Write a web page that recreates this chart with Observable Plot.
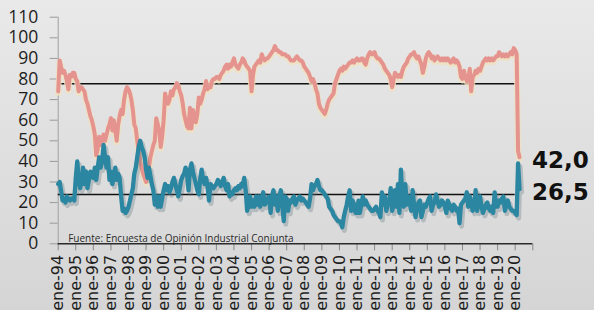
<!DOCTYPE html>
<html><head><meta charset="utf-8">
<script src="https://cdn.jsdelivr.net/npm/d3@7"></script>
<script src="https://cdn.jsdelivr.net/npm/@observablehq/plot@0.6"></script>
<style>
html,body{margin:0;padding:0;width:594px;height:310px;overflow:hidden;background:linear-gradient(#e9e9e9,#d5d5d5);}
#chart svg{display:block;background:transparent;}
</style></head><body><div id="chart"></div>
<script>
// Monthly series, starting January 1994
const startYear = 1994;
const redValues = [
  74, 89, 86, 83, 84, 82, 79, 75, 82, 81, 83, 83,
  80, 79, 74, 76, 76, 75, 74, 70, 68, 65, 62, 60,
  57, 53, 43, 46, 52, 48, 51, 53, 50, 53, 56, 58,
  61, 55, 60, 55, 50, 58, 62, 65, 63, 70, 74, 76,
  75, 73, 70, 65, 58, 56, 50, 45, 40, 37, 34, 32,
  30, 34, 37, 42, 45, 48, 50, 61, 58, 55, 47, 52,
  60, 73, 70, 68, 70, 74, 72, 75, 76, 78, 77, 74,
  72, 68, 63, 60, 57, 56, 66, 56, 65, 62, 59, 63,
  71, 68, 70, 73, 75, 79, 75, 76, 76, 79, 80, 80,
  81, 81, 80, 82, 83, 84, 86, 87, 85, 87, 86, 88,
  90, 87, 86, 85, 87, 88, 90, 89, 87, 86, 85, 84,
  74, 82, 86, 87, 88, 89, 88, 92, 90, 89, 90, 90,
  91, 92, 93, 94, 96, 94, 94, 93, 93, 92, 92, 92,
  91, 91, 90, 89, 89, 89, 90, 91, 90, 89, 89, 88,
  86, 85, 84, 83, 81, 79, 80, 78, 75, 73, 68, 66,
  65, 64, 63, 65, 68, 70, 71, 72, 73, 78, 80, 82,
  84, 85, 84, 86, 85, 86, 87, 88, 88, 89, 88, 89,
  90, 89, 89, 90, 90, 88, 87, 90, 92, 93, 92, 92,
  93, 91, 90, 90, 89, 88, 87, 85, 84, 83, 82, 80,
  76, 80, 83, 82, 81, 82, 81, 84, 86, 87, 88, 90,
  91, 92, 92, 93, 91, 90, 91, 89, 87, 83, 86, 90,
  92, 93, 92, 90, 91, 89, 90, 91, 90, 89, 90, 89,
  90, 89, 90, 89, 88, 89, 90, 88, 89, 88, 86, 81,
  80, 84, 81, 79, 80, 85, 74, 81, 82, 84, 83, 85,
  84, 86, 88, 89, 90, 89, 90, 89, 90, 89, 90, 91,
  91, 93, 92, 91, 92, 91, 92, 91, 92, 93, 92, 95,
  94, 92, 45, 42
];
const tealValues = [
  29, 30, 26, 21, 22, 20, 23, 22, 21, 22, 22, 21,
  32, 40, 32, 27, 30, 37, 29, 35, 27, 31, 35, 33,
  32, 37, 31, 37, 42, 37, 40, 48, 42, 37, 42, 31,
  35, 29, 33, 37, 31, 34, 32, 23, 16, 17, 15, 16,
  18, 21, 24, 27, 34, 37, 42, 47, 50, 47, 45, 42,
  36, 32, 37, 33, 29, 26, 19, 23, 18, 23, 18, 22,
  26, 29, 26, 28, 25, 27, 30, 32, 29, 26, 23, 27,
  31, 33, 34, 37, 34, 26, 36, 39, 35, 32, 29, 26,
  24, 32, 36, 31, 29, 32, 28, 21, 29, 28, 27, 28,
  29, 31, 30, 28, 30, 32, 28, 26, 29, 23, 25, 24,
  26, 27, 26, 28, 27, 29, 28, 32, 26, 16, 19, 23,
  18, 21, 18, 23, 19, 23, 18, 22, 25, 19, 20, 22,
  23, 15, 23, 26, 19, 23, 16, 23, 26, 19, 11, 23,
  22, 16, 21, 20, 22, 23, 19, 21, 22, 23, 21, 22,
  21, 20, 19, 18, 22, 29, 26, 28, 29, 31, 28, 26,
  26, 25, 24, 23, 22, 18, 17, 16, 14, 13, 12, 11,
  11, 10, 8, 13, 16, 19, 23, 26, 16, 21, 19, 15,
  15, 21, 15, 19, 23, 19, 21, 19, 18, 17, 16, 16,
  17, 18, 16, 15, 13, 25, 19, 23, 16, 19, 21, 27,
  16, 20, 26, 18, 29, 15, 36, 23, 18, 29, 19, 23,
  20, 16, 26, 19, 13, 17, 20, 21, 13, 16, 19, 18,
  20, 22, 23, 16, 19, 20, 24, 21, 18, 19, 21, 20,
  18, 15, 21, 19, 17, 16, 19, 18, 16, 17, 10, 19,
  20, 21, 22, 25, 18, 23, 20, 16, 19, 26, 16, 20,
  23, 18, 15, 17, 19, 20, 17, 16, 18, 15, 25, 18,
  18, 21, 20, 22, 23, 16, 19, 21, 18, 17, 16, 16,
  15, 14, 39, 26.5
];
const averageLevels = [77.7, 23.9];
const lastLabels = ["42,0", "26,5"];
const yearTicks = d3.range(1994, 2022);
const yTicks = d3.range(0, 111, 10);
const sourceNote = "Fuente: Encuesta de Opinión Industrial Conjunta";

const dateOf = i => new Date(Date.UTC(startYear, i, 1));
const red = redValues.map((v, i) => ({date: dateOf(i), value: v}));
const teal = tealValues.map((v, i) => ({date: dateOf(i), value: v}));
const lastPoints = [
  {...red[red.length - 1], label: lastLabels[0]},
  {...teal[teal.length - 1], label: lastLabels[1]}
];
const xStart = new Date(Date.UTC(1994, 0, 1));
const xEnd = new Date(Date.UTC(2021, 0, 1));
const avgEnd = new Date(Date.UTC(2020, 0, 1));
const tickDates = yearTicks.map(y => new Date(Date.UTC(y, 0, 1)));
const fmt = d => d.getUTCFullYear() >= 2021 ? "" : "ene-" + String(d.getUTCFullYear()).slice(2);

const chart = Plot.plot({
  width: 594, height: 310,
  marginLeft: 57.7, marginRight: 61.7, marginTop: 16.7, marginBottom: 66.7,
  style: {fontFamily: "Open Sans", background: "transparent", overflow: "visible"},
  x: {type: "utc", domain: [xStart, xEnd]},
  y: {domain: [0, 110]},
  marks: [
    Plot.axisY(yTicks, {label: null, tickSize: 8, tickPadding: 12, fontSize: 17.5, stroke: "#9a9a9a", fill: "#1e1e1e"}),
    Plot.axisX(tickDates, {label: null, tickSize: 7, tickPadding: 4, tickRotate: -90, tickFormat: fmt, fontSize: 16, fontFamily: "DejaVu Sans", stroke: "#888", fill: "#1e1e1e"}),
    Plot.ruleX([xStart], {y1: 0, y2: 110, stroke: "#a0a0a0"}),
    Plot.ruleY(averageLevels, {x1: xStart, x2: avgEnd, stroke: "#111", strokeWidth: 1.5}),
    Plot.line(red, {x: "date", y: "value", stroke: "#f1e0bb", strokeOpacity: 0.8, strokeWidth: 6, dy: 1.5}),
    Plot.line(red, {x: "date", y: "value", stroke: "#e5938f", strokeWidth: 4}),
    Plot.line(teal, {x: "date", y: "value", stroke: "#5a6f7a", strokeOpacity: 0.3, strokeWidth: 5, dx: 2, dy: 3}),
    Plot.line(teal, {x: "date", y: "value", stroke: "#2b86a1", strokeWidth: 4.3}),
    Plot.ruleY([0], {x1: xStart, x2: xEnd, stroke: "#2a2a2a", strokeWidth: 1.5}),
    Plot.text(lastPoints, {x: "date", y: "value", text: "label", dx: 12.5, dy: 3, textAnchor: "start", fontSize: 23, fontWeight: "bold", fontFamily: "DejaVu Sans", fill: "#111"}),
    Plot.text([sourceNote], {frameAnchor: "bottom-left", dx: 10, dy: -2, lineAnchor: "bottom", textAnchor: "start", fontSize: 10, fill: "#2a2a2a"})
  ]
});
document.getElementById("chart").appendChild(chart);
</script></body></html>
